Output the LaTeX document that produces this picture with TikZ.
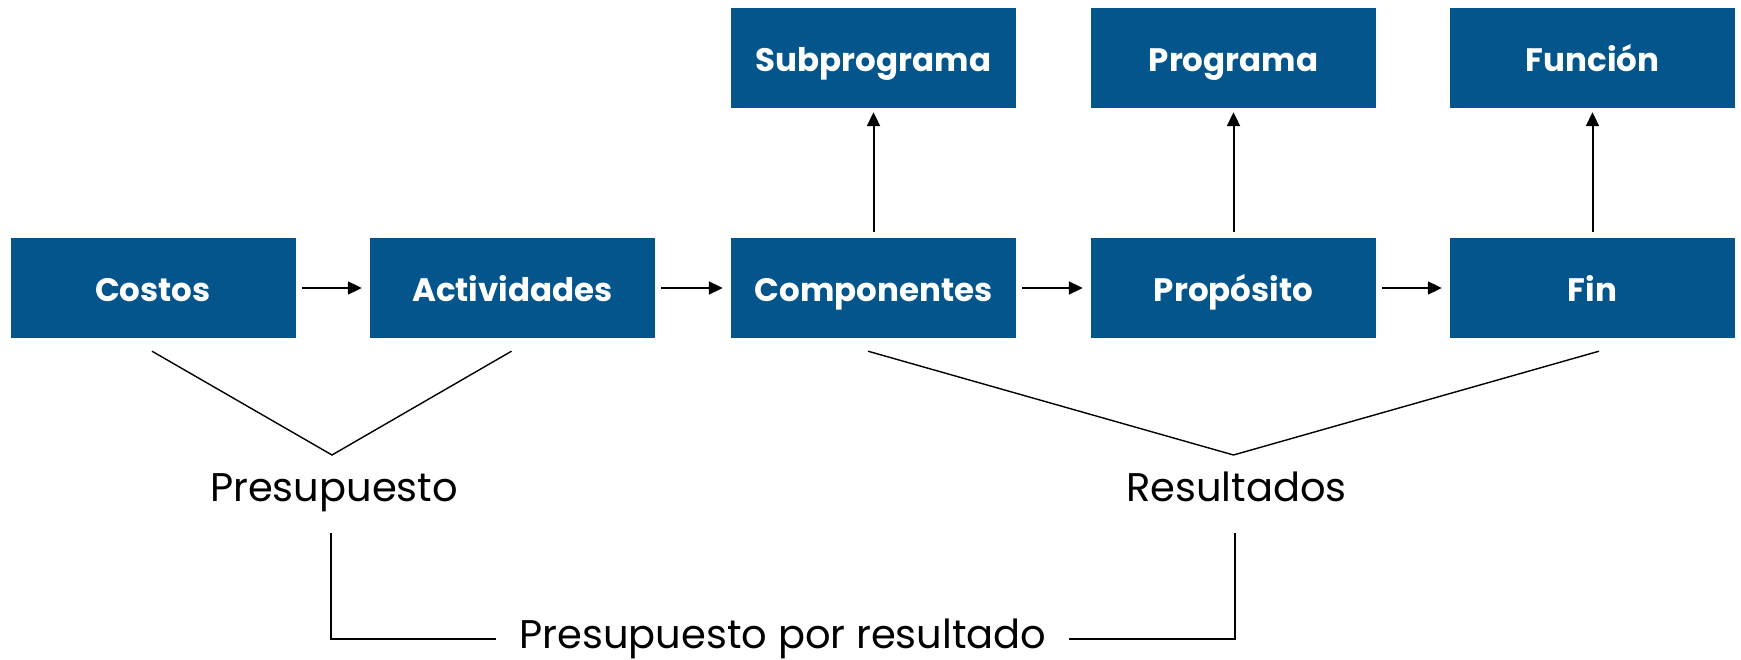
\documentclass[tikz,border=0pt]{standalone}
\usepackage{fontspec}
\setmainfont{Poppins}
\usetikzlibrary{arrows.meta}
\definecolor{boxblue}{HTML}{04558B}
\begin{document}
\begin{tikzpicture}[x=1pt,y=-1pt,
  box/.style={draw=none,fill=boxblue,text=white,minimum width=285pt,minimum height=100pt,inner sep=0pt,
    font=\bfseries\fontsize{32.5}{38}\selectfont,text height=27pt,text depth=0pt},
  arr/.style={line width=2pt,-{Triangle[length=14pt,width=13pt]}},
  thin/.style={line width=1.4pt},
  lab/.style={font=\fontsize{40}{48}\selectfont,inner sep=0pt,anchor=base}]
\useasboundingbox (0,0) rectangle (1741,660);
% bottom row
\node[box] (costos) at (153,288) {Costos};
\node[box] (activ) at (512.5,288) {Actividades};
\node[box] (comp) at (873.5,288) {Componentes};
\node[box] (prop) at (1233.5,288) {Propósito};
\node[box] (fin) at (1592.5,288) {Fin};
% top row
\node[box] (sub) at (873.5,58) {Subprograma};
\node[box] (prog) at (1233.5,58) {Programa};
\node[box] (func) at (1592.5,58) {Función};
% horizontal arrows
\draw[arr] ([xshift=6pt]costos.east) -- ([xshift=-8pt]activ.west);
\draw[arr] ([xshift=6pt]activ.east) -- ([xshift=-8pt]comp.west);
\draw[arr] ([xshift=6pt]comp.east) -- ([xshift=-8pt]prop.west);
\draw[arr] ([xshift=6pt]prop.east) -- ([xshift=-8pt]fin.west);
% vertical arrows
\draw[arr] ([yshift=6pt]comp.north) -- ([yshift=-4pt]sub.south);
\draw[arr] ([yshift=6pt]prop.north) -- ([yshift=-4pt]prog.south);
\draw[arr] ([yshift=6pt]fin.north) -- ([yshift=-4pt]func.south);
% labels
\node[lab] (pres) at (334,501) {Presupuesto};
\node[lab] (res) at (1236.5,501) {Resultados};
\node[lab] (pxr) at (783,648) {Presupuesto por resultado};
% V brackets
\coordinate (pv) at (332,455);
\coordinate (rv) at (1233.5,455);
\draw[thin] ([xshift=-1pt,yshift=-13pt]costos.south) -- (pv) -- ([xshift=-1pt,yshift=-13pt]activ.south);
\draw[thin] ([xshift=-5.5pt,yshift=-13pt]comp.south) -- (rv) -- ([xshift=6.5pt,yshift=-13pt]fin.south);
% bottom bracket
\coordinate (pb) at (331,533);
\coordinate (rb) at (1235,533);
\coordinate (pl) at (496,639);
\coordinate (pr) at (1069,639);
\draw[thin] (pb) |- (pl);
\draw[thin] (rb) |- (pr);
\end{tikzpicture}
\end{document}
